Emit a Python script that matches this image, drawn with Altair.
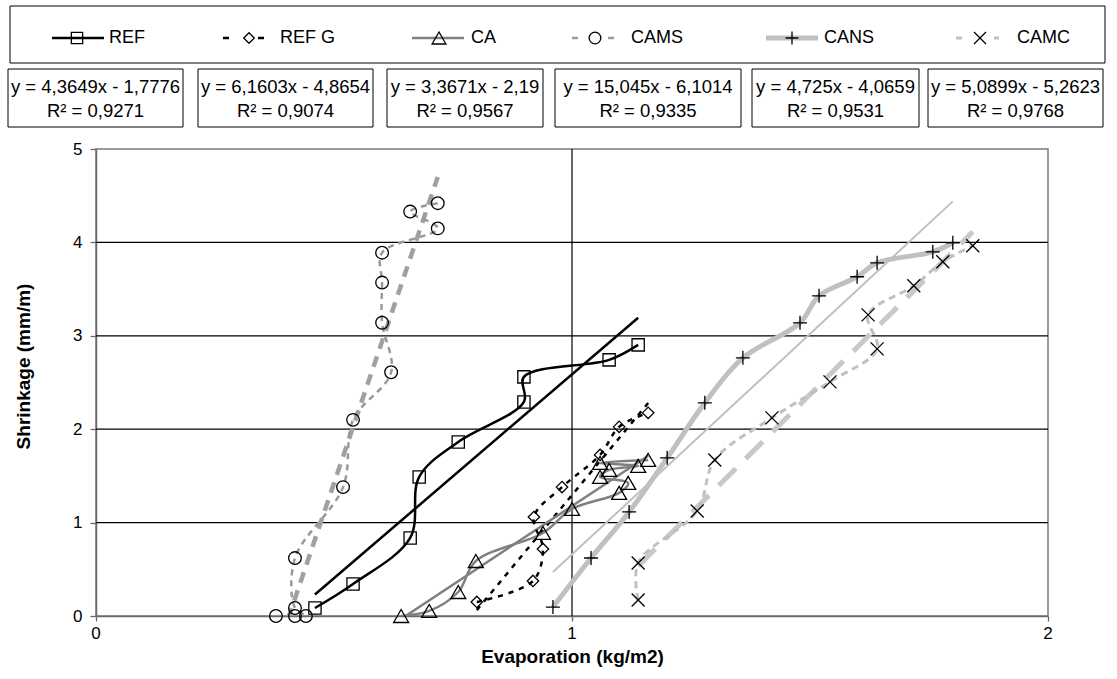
import altair as alt
import pandas as pd

# ---------------- data ----------------
names = ["REF", "REF G", "CA", "CAMS", "CANS", "CAMC"]

ref_x = [0.460, 0.540, 0.660, 0.679, 0.761, 0.899, 0.899, 1.078, 1.139]
ref_y = [0.086, 0.343, 0.836, 1.489, 1.864, 2.292, 2.560, 2.742, 2.903]

refg_x = [0.800, 0.918, 0.939, 0.920, 0.979, 1.059, 1.099, 1.160]
refg_y = [0.150, 0.375, 0.718, 1.060, 1.380, 1.725, 2.025, 2.175]

ca_x = [0.641, 0.700, 0.761, 0.798, 0.939, 1.000, 1.099, 1.118, 1.059, 1.078, 1.139, 1.059, 1.160]
ca_y = [0.000, 0.054, 0.257, 0.589, 0.889, 1.146, 1.318, 1.425, 1.489, 1.564, 1.607, 1.639, 1.671]

cams_x = [0.378, 0.418, 0.441, 0.418, 0.418, 0.519, 0.540, 0.620, 0.601, 0.601, 0.601, 0.718, 0.660, 0.718]
cams_y = [0.000, 0.000, 0.000, 0.086, 0.620, 1.380, 2.100, 2.610, 3.140, 3.570, 3.890, 4.150, 4.330, 4.420]

cans_x = [0.960, 1.040, 1.120, 1.200, 1.279, 1.359, 1.479, 1.519, 1.599, 1.641, 1.758, 1.800]
cans_y = [0.096, 0.621, 1.114, 1.693, 2.282, 2.764, 3.139, 3.428, 3.632, 3.781, 3.899, 3.996]

camc_x = [1.139, 1.139, 1.263, 1.300, 1.420, 1.542, 1.641, 1.622, 1.718, 1.779, 1.842]
camc_y = [0.171, 0.568, 1.125, 1.671, 2.121, 2.507, 2.860, 3.224, 3.535, 3.792, 3.964]

slopes = [4.3649, 6.1603, 3.3671, 15.045, 4.725, 5.0899]
intercepts = [-1.7776, -4.8654, -2.19, -6.1014, -4.0659, -5.2623]

eq_text = ["y = 4,3649x - 1,7776", "y = 6,1603x - 4,8654", "y = 3,3671x - 2,19",
           "y = 15,045x - 6,1014", "y = 4,725x - 4,0659", "y = 5,0899x - 5,2623"]
r2_text = ["R² = 0,9271", "R² = 0,9074", "R² = 0,9567",
           "R² = 0,9335", "R² = 0,9531", "R² = 0,9768"]

x_ticks = [0, 1, 2]
x_tick_labels = ["0", "1", "2"]
y_ticks = [0, 1, 2, 3, 4, 5]
grid_y = [1, 2, 3, 4]
grid_x = [1]

series_x = [ref_x, refg_x, ca_x, cams_x, cans_x, camc_x]
series_y = [ref_y, refg_y, ca_y, cams_y, cans_y, camc_y]

# ---------------- layout / style ----------------
W, H = 952, 467
PAD_L, PAD_T = 96, 149
FONT = "Liberation Sans"
LEG_FONT = "Liberation Sans Narrow, Arial Narrow, Liberation Sans"

PLUS = "M-1,0L1,0M0,-1L0,1"
CROSS = "M-1,-1L1,1M-1,1L1,-1"

styles = {
    "REF":   dict(color="black",   width=2.5, dash=None,   shape="square",      size=150,
                  tcolor="black",   twidth=2.5, tdash=None),
    "REF G": dict(color="black",   width=2.5, dash=[5, 6], shape="diamond",     size=130,
                  tcolor="black",   twidth=2.5, tdash=[5, 6]),
    "CA":    dict(color="#808080", width=2.5, dash=None,   shape="triangle-up", size=225,
                  tcolor="#808080", twidth=2.5, tdash=None),
    "CAMS":  dict(color="#999999", width=2.5, dash=[6, 5], shape="circle",      size=160,
                  tcolor="#a0a0a0", twidth=4.5, tdash=[11, 8]),
    "CANS":  dict(color="#c0c0c0", width=5,   dash=None,   shape=PLUS,          size=196,
                  tcolor="#c0c0c0", twidth=2,   tdash=None),
    "CAMC":  dict(color="#c0c0c0", width=3,   dash=[7, 5], shape=CROSS,         size=169,
                  tcolor="#c8c8c8", twidth=5,   tdash=[24, 14]),
}

X = alt.X("x:Q", scale=alt.Scale(domain=[0, 2], nice=False, zero=False),
          axis=alt.Axis(values=x_ticks, labels=False, title="Evaporation (kg/m2)", grid=False,
                        tickSize=5, titleX=W / 2, titleY=40, titleBaseline="middle"))
Y = alt.Y("y:Q", scale=alt.Scale(domain=[0, 5], nice=False, zero=False),
          axis=alt.Axis(values=y_ticks, format="d", title="Shrinkage (mm/m)", grid=False,
                        tickSize=6, labelPadding=8, labelFlush=False, labelOverlap=False,
                        titleX=-73, titleY=217, titleBaseline="middle", titleAlign="center"))

layers = []

# grid lines
layers.append(alt.Chart(pd.DataFrame({"y": grid_y})).mark_rule(color="black", strokeWidth=1.2).encode(y=Y))
layers.append(alt.Chart(pd.DataFrame({"x": grid_x})).mark_rule(color="black", strokeWidth=1.2).encode(x=X))

# x tick labels, positioned through the x scale
layers.append(
    alt.Chart(pd.DataFrame({"x": x_ticks, "t": x_tick_labels}))
    .mark_text(fontSize=17, font=FONT, color="black", baseline="middle", align="center")
    .encode(x=X, y=alt.value(H + 18), text="t:N")
)

# trend lines (from the printed equations, between min and max x of each series)
for nm, xs, a, b in zip(names, series_x, slopes, intercepts):
    st = styles[nm]
    lo, hi = min(xs), max(xs)
    tdf = pd.DataFrame({"x": [lo, hi], "y": [a * lo + b, a * hi + b]})
    kw = dict(color=st["tcolor"], strokeWidth=st["twidth"], clip=True)
    if st["tdash"]:
        kw["strokeDash"] = st["tdash"]
    layers.append(alt.Chart(tdf).mark_line(**kw).encode(x=X, y=Y))

# series lines (smoothed)
for nm, xs, ys in zip(names, series_x, series_y):
    st = styles[nm]
    df = pd.DataFrame({"x": xs, "y": ys, "i": list(range(len(xs)))})
    kw = dict(color=st["color"], strokeWidth=st["width"], interpolate="catmull-rom", clip=True)
    if st["dash"]:
        kw["strokeDash"] = st["dash"]
    layers.append(alt.Chart(df).mark_line(**kw).encode(x=X, y=Y, order="i:Q"))

# markers
for nm, xs, ys in zip(names, series_x, series_y):
    st = styles[nm]
    df = pd.DataFrame({"x": xs, "y": ys})
    layers.append(alt.Chart(df).mark_point(shape=st["shape"], size=st["size"], filled=False,
                                           color="black", strokeWidth=1.3, opacity=1)
                  .encode(x=X, y=Y))

# ---------------- legend & equation boxes (annotation, pixel layout) ----------------
one = pd.DataFrame({"k": [0]})


def rx(v):
    return v - PAD_L


def ry(v):
    return v - PAD_T


def box(x1, x2, y1, y2):
    return alt.Chart(one).mark_rect(fill="white", stroke="black", strokeWidth=1).encode(
        x=alt.value(rx(x1)), x2=alt.value(rx(x2)), y=alt.value(ry(y1)), y2=alt.value(ry(y2)))


def seg(x1, x2, yy, color, width, dash=None):
    kw = dict(color=color, strokeWidth=width)
    if dash:
        kw["strokeDash"] = dash
    return alt.Chart(one).mark_rule(**kw).encode(
        x=alt.value(rx(x1)), x2=alt.value(rx(x2)), y=alt.value(ry(yy)))


def sym(shape, size, xx, yy):
    return alt.Chart(one).mark_point(shape=shape, size=size, filled=False, color="black",
                                     strokeWidth=1.3, opacity=1).encode(
        x=alt.value(rx(xx)), y=alt.value(ry(yy)))


def label(txt, xx, yy, size, font, align="left"):
    return alt.Chart(pd.DataFrame({"t": [txt]})).mark_text(
        align=align, baseline="middle", fontSize=size, font=font, color="black").encode(
        x=alt.value(rx(xx)), y=alt.value(ry(yy)), text="t:N")


LEG_Y = 38
layers.append(box(10, 1105, 6, 63))
# (segments: list of (x1,x2)), symbol x, text x
leg_layout = {
    "REF":   ([(52, 104)], 77, 109),
    "REF G": ([(223, 229), (258, 264)], 249, 280),
    "CA":    ([(412, 464)], 439, 471),
    "CAMS":  ([(572, 578), (608, 614)], 595, 631),
    "CANS":  ([(766, 818)], 792, 824),
    "CAMC":  ([(956, 962), (994, 999)], 980, 1017),
}
for nm in names:
    st = styles[nm]
    segs, sx, tx = leg_layout[nm]
    for (a, b) in segs:
        layers.append(seg(a, b, LEG_Y, st["color"], st["width"]))
    layers.append(sym(st["shape"], st["size"] * 0.85, sx, LEG_Y))
    layers.append(label(nm, tx, LEG_Y, 18, LEG_FONT))

eq_boxes = [(8, 183), (198, 373), (387, 543), (555, 741), (752, 919), (928, 1103)]
for (a, b), t1, t2 in zip(eq_boxes, eq_text, r2_text):
    layers.append(box(a, b, 69, 127))
    layers.append(label(t1, (a + b) / 2, 87, 18.5, FONT, align="center"))
    layers.append(label(t2, (a + b) / 2, 111, 18.5, FONT, align="center"))

chart = (
    alt.layer(*layers)
    .properties(width=W, height=H, autosize=alt.AutoSizeParams(type="none"),
                padding={"left": PAD_L, "top": PAD_T, "right": 1117 - PAD_L - W,
                         "bottom": 679 - PAD_T - H},
                background="white")
    .configure_view(stroke="#7a7a7a", strokeWidth=1.5)
    .configure_axis(labelFont=FONT, titleFont=FONT, labelFontSize=17, titleFontSize=19,
                    titleFontWeight="bold", labelColor="black", titleColor="black",
                    domainColor="#6a6a6a", domainWidth=1.5, tickColor="#6a6a6a", tickWidth=1.3)
)

chart.save("out.html", embed_options={"renderer": "svg", "actions": False})
